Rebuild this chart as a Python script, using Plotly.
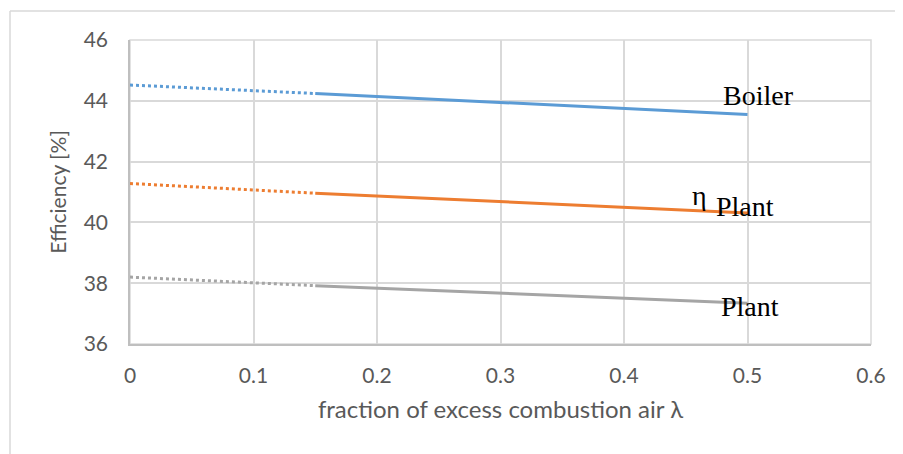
import plotly.graph_objects as go

# Data
x_extrap = [0.0, 0.15]
x_main = [0.15, 0.5]
boiler_extrap = [44.52, 44.24]
boiler_main = [44.24, 43.55]
eta_plant_extrap = [41.28, 40.96]
eta_plant_main = [40.96, 40.31]
plant_extrap = [38.20, 37.92]
plant_main = [37.92, 37.34]

x_tickvals = [0, 0.1, 0.2, 0.3, 0.4, 0.5, 0.6]
x_ticktext = ["0", "0.1", "0.2", "0.3", "0.4", "0.5", "0.6"]
y_tickvals = [36, 38, 40, 42, 44, 46]

labels = ["Boiler", "η", "Plant", "Plant"]
label_x = [0.4785, 0.4533, 0.4727, 0.4768]
label_y = [44.18, 40.88, 40.52, 37.25]

blue = "#5b9bd5"
orange = "#ed7d31"
gray = "#a5a5a5"

fig = go.Figure()
for xs, ys, col, dash in [
    (x_extrap, boiler_extrap, blue, "dot"),
    (x_main, boiler_main, blue, "solid"),
    (x_extrap, eta_plant_extrap, orange, "dot"),
    (x_main, eta_plant_main, orange, "solid"),
    (x_extrap, plant_extrap, gray, "dot"),
    (x_main, plant_main, gray, "solid"),
]:
    fig.add_trace(go.Scatter(x=xs, y=ys, mode="lines",
                             line=dict(color=col, width=3, dash=dash),
                             showlegend=False, hoverinfo="skip"))

for t, xx, yy in zip(labels, label_x, label_y):
    fig.add_annotation(x=xx, y=yy, text=t, showarrow=False, xanchor="left",
                       yanchor="middle",
                       font=dict(family="Liberation Serif", size=28, color="#000000"))

# outer chart border (top and left only visible)
fig.add_shape(type="line", xref="paper", yref="paper",
              x0=(10 - 130) / 741, x1=(910 - 130) / 741,
              y0=1 + (40 - 11) / 304, y1=1 + (40 - 11) / 304,
              line=dict(color="#d9d9d9", width=1.5))
fig.add_shape(type="line", xref="paper", yref="paper",
              x0=(10 - 130) / 741, x1=(10 - 130) / 741,
              y0=1 + (40 - 11) / 304, y1=-(460 - 344) / 304,
              line=dict(color="#d9d9d9", width=1.5))

tickfont = dict(family="Lato", size=21, color="#595959")
fig.update_layout(
    width=903, height=454,
    margin=dict(l=122, r=40, t=32, b=118),
    paper_bgcolor="white", plot_bgcolor="white",
    xaxis=dict(range=[0, 0.6], tickvals=x_tickvals, ticktext=x_ticktext,
               showgrid=True, gridcolor="#d9d9d9", gridwidth=1.5,
               showline=True, linecolor="#bfbfbf", linewidth=1.5,
               zeroline=False, ticks="", tickfont=tickfont,
               ticklabelstandoff=12,
               title=dict(text="fraction of excess combustion air λ",
                          font=dict(family="Lato", size=24, color="#595959"),
                          standoff=15)),
    yaxis=dict(range=[36, 46], tickvals=y_tickvals,
               showgrid=True, gridcolor="#d9d9d9", gridwidth=1.5,
               showline=True, linecolor="#bfbfbf", linewidth=1.5,
               zeroline=False, ticks="", tickfont=tickfont,
               ticklabelstandoff=16,
               title=dict(text="Efficiency [%]",
                          font=dict(family="Lato", size=21, color="#595959"),
                          standoff=11)),
)
# top / right plot-area edges
fig.add_shape(type="rect", xref="paper", yref="paper", x0=0, x1=1, y0=0, y1=1,
              line=dict(color="#d9d9d9", width=1.5), layer="below")

fig.write_html("out.html")
